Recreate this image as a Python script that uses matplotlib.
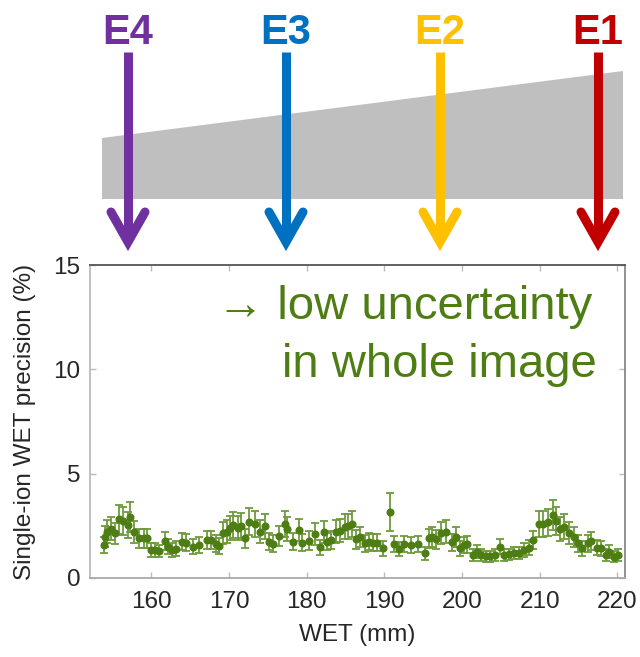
import matplotlib.pyplot as plt
from matplotlib.patches import Polygon

# WET positions (mm), single-ion precision (%) and error bars
wet = [153.9, 154.0, 154.3, 154.8, 155.3, 155.8, 156.3, 157.0, 157.3, 157.8,
       158.4, 159.0, 159.5, 159.9, 160.5, 161.0, 161.7, 162.2, 162.7, 163.2,
       164.0, 164.5, 165.4, 166.2, 167.2, 167.7, 168.3, 168.7, 169.2, 169.7,
       170.1, 170.5, 171.1, 171.6, 172.0, 172.6, 173.3, 174.0, 174.6, 175.2,
       175.7,
       176.4, 177.2, 177.5, 178.3, 179.0, 179.4, 180.3, 181.1, 181.7, 182.2,
       182.6, 183.2, 183.8, 184.3, 184.9, 185.3, 185.9, 186.4, 186.9, 187.5,
       188.0, 188.5, 189.0, 189.8, 190.7, 191.3, 191.9, 192.5, 193.5, 194.3,
       195.2, 195.8, 196.2, 196.7, 197.3, 198.0,
       198.7, 199.2, 199.8, 200.3, 200.7, 201.4, 201.9, 202.4, 203.1, 203.6,
       204.2, 204.9, 205.4, 206.1, 206.7, 207.4, 208.0, 208.7, 209.2, 209.9,
       210.5, 211.1, 211.7, 212.1, 212.6, 213.2, 213.8, 214.4, 214.9, 215.5,
       216.2, 216.6, 217.4, 217.9, 218.5, 219.0, 219.6, 220.1]

precision = [1.58, 1.98, 2.22, 2.35, 2.14, 2.81, 2.73, 2.54, 2.91, 2.22,
             1.90, 1.90, 1.90, 1.34, 1.34, 1.29, 1.77, 1.50, 1.34, 1.41,
             1.74, 1.70, 1.50, 1.60, 1.82, 1.82, 1.65, 1.53, 2.14, 2.22,
             2.38, 2.54, 2.38, 2.50, 1.90, 2.70, 2.59, 2.22, 2.49, 1.74,
             1.65,
             2.01, 2.59, 2.35, 1.74, 2.30, 1.69, 1.79, 2.11, 1.47, 2.19,
             1.74, 1.82, 2.22, 2.27, 2.46, 2.49, 2.59, 1.85, 1.95, 1.66,
             1.74, 1.69, 1.69, 1.42, 3.15, 1.63, 1.38, 1.63, 1.58, 1.63,
             1.18, 1.90, 1.95, 1.85, 2.14, 2.22,
             1.71, 1.98, 1.42, 1.58, 1.61, 1.10, 1.26, 1.10, 1.05, 1.05,
             1.10, 1.50, 1.10, 1.13, 1.18, 1.18, 1.34, 1.45, 1.82, 2.57,
             2.57, 2.67, 3.02, 2.73, 2.35, 2.46, 2.17, 1.98, 1.66, 1.42,
             1.66, 1.77, 1.45, 1.42, 1.10, 1.26, 1.02, 1.10]

errors = [0.40, 0.50, 0.55, 0.55, 0.50, 0.68, 0.65, 0.60, 0.72, 0.52,
          0.45, 0.45, 0.45, 0.32, 0.32, 0.30, 0.42, 0.36, 0.32, 0.34,
          0.42, 0.40, 0.36, 0.38, 0.45, 0.45, 0.40, 0.37, 0.52, 0.55,
          0.58, 0.62, 0.58, 0.60, 0.45, 0.65, 0.62, 0.55, 0.60, 0.42,
          0.40,
          0.50, 0.62, 0.58, 0.42, 0.55, 0.42, 0.44, 0.52, 0.36, 0.53,
          0.42, 0.45, 0.54, 0.55, 0.60, 0.60, 0.62, 0.45, 0.48, 0.40,
          0.42, 0.41, 0.41, 0.35, 0.92, 0.40, 0.34, 0.40, 0.38, 0.40,
          0.30, 0.46, 0.48, 0.45, 0.52, 0.54,
          0.42, 0.48, 0.35, 0.38, 0.40, 0.27, 0.31, 0.27, 0.26, 0.26,
          0.27, 0.37, 0.27, 0.28, 0.29, 0.29, 0.33, 0.36, 0.45, 0.62,
          0.62, 0.65, 0.72, 0.66, 0.57, 0.60, 0.53, 0.48, 0.41, 0.35,
          0.41, 0.43, 0.36, 0.35, 0.27, 0.31, 0.25, 0.27]

beam_labels = ["E4", "E3", "E2", "E1"]
beam_colors = ["#7030A0", "#0070C0", "#FFC000", "#C00000"]
beam_x = [128, 286, 440, 598]  # pixel positions in the sketch above the plot

green = "#4E7D14"
plt.rcParams['font.family'] = ['Liberation Sans', 'DejaVu Sans']

fig = plt.figure(figsize=(6.4, 6.57), dpi=100)

# main plot
ax = fig.add_axes([90 / 640, 79 / 657, 535 / 640, 313 / 657])
ax.errorbar(wet, precision, yerr=errors, fmt='o', color=green, ms=4.8,
            ecolor='#6E9A3C', elinewidth=1.3, capsize=2.8, capthick=1.3)
ax.set_xlim(152.1, 221.0)
ax.set_ylim(0, 15)
ax.set_xticks([160, 170, 180, 190, 200, 210, 220])
ax.set_yticks([0, 5, 10, 15])
ax.tick_params(direction='in', length=4, width=1, color='#BBBBBB',
               labelsize=17.5, labelcolor='#262626', top=True, right=True)
ax.tick_params(axis='x', pad=9)
ax.tick_params(axis='y', pad=7)
ax.spines['left'].set_color('#BBBBBB')
ax.spines['bottom'].set_color('#AAAAAA')
ax.spines['top'].set_color('#555555')
ax.spines['right'].set_color('#888888')
for s in ax.spines.values():
    s.set_linewidth(1.3)
ax.set_xlabel("WET (mm)", fontsize=17.5, color='#262626', labelpad=8)
ax.set_ylabel("Single-ion WET precision (%)", fontsize=17.5, color='#262626', labelpad=12)

ax.text(0.238, 0.826, "\u2192 low uncertainty", transform=ax.transAxes,
        fontsize=34, color=green, ha='left', va='baseline')
ax.text(0.358, 0.642, "in whole image", transform=ax.transAxes,
        fontsize=34, color=green, ha='left', va='baseline')

# sketch of the phantom and beams on top
top = fig.add_axes([0, 0, 1, 1], zorder=-1)
top.set_xlim(0, 640)
top.set_ylim(657, 0)
top.axis('off')
top.add_patch(Polygon([(102, 199), (102, 138), (623, 71), (623, 199)],
                      closed=True, facecolor='#BFBFBF', edgecolor='none'))

for lab, col, x in zip(beam_labels, beam_colors, beam_x):
    top.plot([x, x], [52, 240], color=col, lw=6.5, solid_capstyle='butt')
    top.plot([x - 17, x, x + 17], [212, 242, 212], color=col, lw=6.5,
             solid_capstyle='round', solid_joinstyle='miter')
    top.text(x, 44, lab, color=col, fontsize=30, fontweight='bold',
             ha='center', va='baseline')

plt.savefig("out.png", dpi=100)
